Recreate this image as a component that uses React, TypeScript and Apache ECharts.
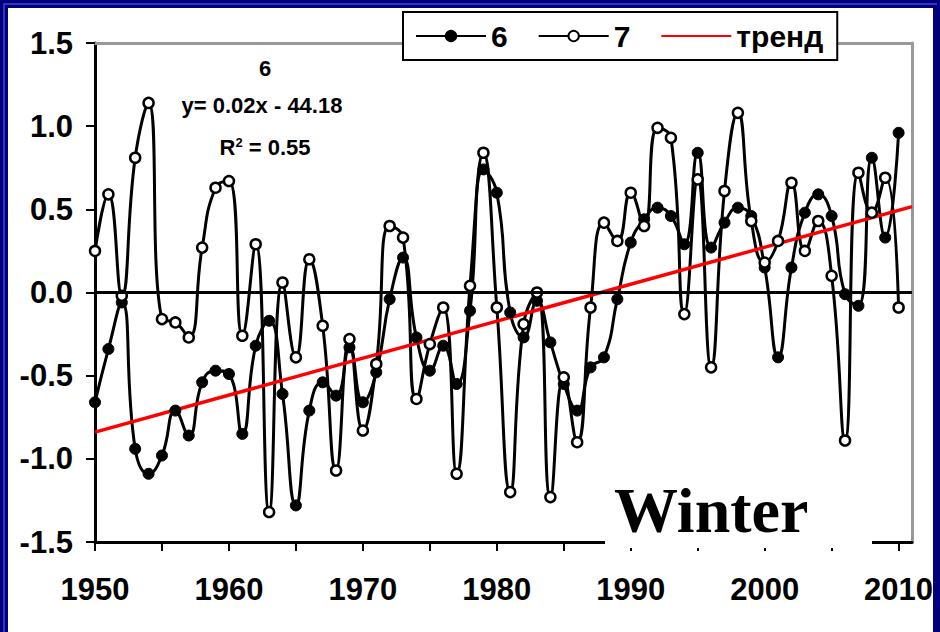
import React, { useEffect, useRef } from "react";
import * as echarts from "echarts";

// Winter index, 1950–2010
const years = [
  1950, 1951, 1952, 1953, 1954, 1955, 1956, 1957, 1958, 1959,
  1960, 1961, 1962, 1963, 1964, 1965, 1966, 1967, 1968, 1969,
  1970, 1971, 1972, 1973, 1974, 1975, 1976, 1977, 1978, 1979,
  1980, 1981, 1982, 1983, 1984, 1985, 1986, 1987, 1988, 1989,
  1990, 1991, 1992, 1993, 1994, 1995, 1996, 1997, 1998, 1999,
  2000, 2001, 2002, 2003, 2004, 2005, 2006, 2007, 2008, 2009,
  2010,
];

const series6 = [
  -0.66, -0.34, -0.06, -0.94, -1.09, -0.98, -0.71, -0.86, -0.54, -0.47,
  -0.49, -0.85, -0.32, -0.17, -0.61, -1.28, -0.71, -0.54, -0.62, -0.33,
  -0.66, -0.48, -0.04, 0.21, -0.27, -0.47, -0.32, -0.55, -0.11, 0.74,
  0.6, -0.12, -0.27, -0.05, -0.3, -0.55, -0.71, -0.45, -0.39, -0.04,
  0.3, 0.44, 0.51, 0.46, 0.29, 0.84, 0.27, 0.42, 0.51, 0.46,
  0.15, -0.39, 0.15, 0.48, 0.59, 0.46, -0.01, -0.08, 0.81, 0.33,
  0.96,
];

const series7 = [
  0.25, 0.59, -0.02, 0.81, 1.14, -0.16, -0.18, -0.27, 0.27, 0.63,
  0.67, -0.26, 0.29, -1.32, 0.06, -0.39, 0.2, -0.2, -1.07, -0.28,
  -0.83, -0.43, 0.4, 0.33, -0.64, -0.31, -0.09, -1.09, 0.04, 0.84,
  -0.09, -1.2, -0.19, 0.0, -1.23, -0.51, -0.9, -0.09, 0.42, 0.31,
  0.6, 0.4, 0.99, 0.93, -0.13, 0.68, -0.45, 0.61, 1.08, 0.43,
  0.18, 0.31, 0.66, 0.25, 0.43, 0.1, -0.89, 0.72, 0.48, 0.69,
  -0.09,
];

// Linear trend of series 6
const trendSlope = 0.022226;
const trendIntercept = -44.18;
const trendYears = [1950, 2011];

const yTickLabels = ["-1.5", "-1.0", "-0.5", "0.0", "0.5", "1.0", "1.5"];
const xTickValues = [1950, 1955, 1960, 1965, 1970, 1975, 1980, 1985, 1990, 1995, 2000, 2005, 2010];
const xLabelValues = [1950, 1960, 1970, 1980, 1990, 2000, 2010];

const SANS = '"Liberation Sans", Arial, sans-serif';
const SERIF = '"Liberation Serif", "Times New Roman", serif';

export default function App() {
  const ref = useRef<HTMLDivElement>(null);

  useEffect(() => {
    if (!ref.current) return;
    const chart = echarts.init(ref.current, undefined, { renderer: "svg" });

    const trendData = trendYears.map((x) => [x, +(trendSlope * x + trendIntercept).toFixed(4)]);

    chart.setOption({
      animation: false,
      backgroundColor: "#ffffff",
      grid: { left: 95, right: 28, top: 43, bottom: 90, containLabel: false },
      legend: {
        data: [
          { name: "6" },
          { name: "7" },
          { name: "тренд", itemStyle: { color: "rgba(0,0,0,0)", borderWidth: 0 } },
        ],
        left: 403,
        top: 12,
        orient: "horizontal",
        itemWidth: 70,
        itemHeight: 13,
        itemGap: 30,
        backgroundColor: "#ffffff",
        borderColor: "#000000",
        borderWidth: 2,
        borderRadius: 0,
        padding: [9, 14, 9, 12],
        z: 10,
        textStyle: { fontFamily: SANS, fontWeight: "bold", fontSize: 30, color: "#000" },
      },
      xAxis: [
        {
          type: "value",
          min: 1950,
          max: 2011,
          position: "bottom",
          axisLine: { show: true, onZero: false, lineStyle: { color: "#000", width: 3 } },
          axisTick: {
            show: true,
            length: 9,
            customValues: xTickValues,
            lineStyle: { color: "#000", width: 2 },
          },
          axisLabel: {
            customValues: xLabelValues,
            formatter: (v: number) => String(v),
            fontFamily: SANS,
            fontWeight: "bold",
            fontSize: 31,
            color: "#000",
            margin: 32,
          },
          splitLine: { show: false },
        },
        {
          type: "value",
          min: 1950,
          max: 2011,
          position: "top",
          axisLine: { show: true, onZero: false, lineStyle: { color: "#999", width: 3 } },
          axisTick: { show: false },
          axisLabel: { show: false },
          splitLine: { show: false },
        },
      ],
      yAxis: [
        {
          type: "value",
          min: -1.5,
          max: 1.5,
          interval: 0.5,
          axisLine: { show: true, onZero: false, lineStyle: { color: "#000", width: 3 } },
          axisTick: { show: true, length: 9, lineStyle: { color: "#000", width: 2 } },
          axisLabel: {
            formatter: (v: number) => yTickLabels[Math.round((v + 1.5) / 0.5)] ?? "",
            fontFamily: SANS,
            fontWeight: "bold",
            fontSize: 31,
            color: "#000",
            margin: 22,
          },
          splitLine: { show: false },
        },
        {
          type: "value",
          min: -1.5,
          max: 1.5,
          position: "right",
          axisLine: { show: true, onZero: false, lineStyle: { color: "#999", width: 3 } },
          axisTick: { show: false },
          axisLabel: { show: false },
          splitLine: { show: false },
        },
      ],
      series: [
        {
          name: "6",
          type: "line",
          data: years.map((y, i) => [y, series6[i]]),
          smooth: 0.5,
          symbol: "circle",
          symbolSize: 11,
          showAllSymbol: true,
          lineStyle: { color: "#000", width: 3 },
          itemStyle: { color: "#000", borderColor: "#000", borderWidth: 1 },
          markLine: {
            silent: true,
            symbol: "none",
            label: { show: false },
            lineStyle: { color: "#000", width: 3, type: "solid" },
            data: [{ yAxis: 0 }],
          },
        },
        {
          name: "7",
          type: "line",
          data: years.map((y, i) => [y, series7[i]]),
          smooth: 0.5,
          symbol: "circle",
          symbolSize: 10,
          showAllSymbol: true,
          lineStyle: { color: "#000", width: 3 },
          itemStyle: { color: "#fff", borderColor: "#000", borderWidth: 2.5 },
        },
        {
          name: "тренд",
          type: "line",
          data: trendData,
          symbol: "none",
          lineStyle: { color: "#ff0000", width: 3.5 },
          itemStyle: { color: "#ff0000" },
        },
      ],
      graphic: [
        // dark blue frame
        { type: "rect", shape: { x: 0, y: 0, width: 940, height: 8 }, style: { fill: "#00007e" }, z: 50 },
        { type: "rect", shape: { x: 0, y: 0, width: 8, height: 632 }, style: { fill: "#00007e" }, z: 50 },
        { type: "rect", shape: { x: 933, y: 0, width: 7, height: 632 }, style: { fill: "#00007e" }, z: 50 },
        { type: "rect", shape: { x: 3, y: 3, width: 2, height: 629 }, style: { fill: "#3434b4" }, z: 51 },
        { type: "rect", shape: { x: 3, y: 3, width: 934, height: 2 }, style: { fill: "#3434b4" }, z: 51 },
        // regression annotation
        {
          type: "text",
          x: 265,
          y: 68,
          z: 20,
          style: { text: "6", fontFamily: SANS, fontWeight: "bold", fontSize: 22, fill: "#000", align: "center", verticalAlign: "middle" },
        },
        {
          type: "text",
          x: 262,
          y: 105,
          z: 20,
          style: {
            text: "y= 0.02x - 44.18",
            fontFamily: SANS,
            fontWeight: "bold",
            fontSize: 22,
            fill: "#000",
            align: "center",
            verticalAlign: "middle",
          },
        },
        {
          type: "text",
          x: 265,
          y: 147,
          z: 20,
          style: {
            text: "{a|R}{s|2}{a| = 0.55}",
            align: "center",
            verticalAlign: "middle",
            rich: {
              a: { fontFamily: SANS, fontWeight: "bold", fontSize: 22, fill: "#000", color: "#000", verticalAlign: "bottom" },
              s: { fontFamily: SANS, fontWeight: "bold", fontSize: 13, fill: "#000", color: "#000", verticalAlign: "top", padding: [0, 0, 10, 0] },
            },
          },
        },
        // season label on a white block
        { type: "rect", shape: { x: 605, y: 468, width: 267, height: 80 }, style: { fill: "#fff" }, z: 30 },
        {
          type: "text",
          x: 614,
          y: 510,
          z: 31,
          style: {
            text: "Winter",
            fontFamily: SERIF,
            fontWeight: "bold",
            fontSize: 64,
            fill: "#000",
            align: "left",
            verticalAlign: "middle",
          },
        },
      ],
    });

    return () => chart.dispose();
  }, []);

  return (
    <div style={{ position: "fixed", left: 0, top: 0, width: 940, height: 632, background: "#fff" }}>
      <div ref={ref} style={{ width: 940, height: 632 }} />
    </div>
  );
}
